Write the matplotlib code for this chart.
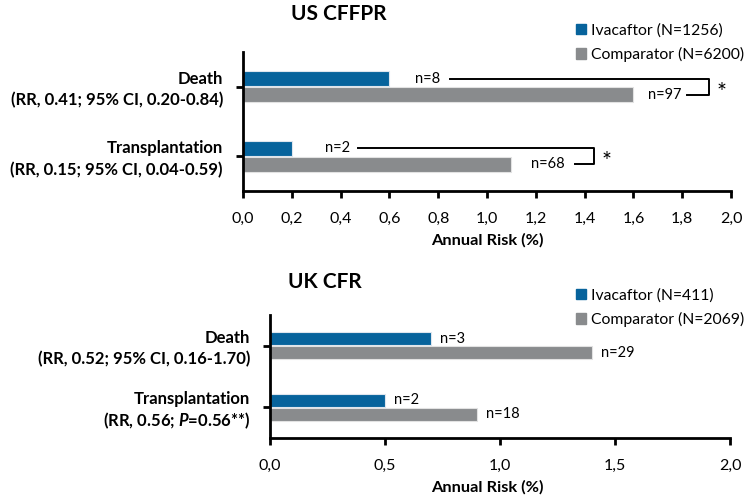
import matplotlib.pyplot as plt
from matplotlib.patches import Patch
import matplotlib.transforms as mtransforms

plt.rcParams['font.family'] = ['Lato', 'DejaVu Sans']
plt.rcParams['mathtext.fontset'] = 'custom'
plt.rcParams['mathtext.it'] = 'Lato:bold:italic'
plt.rcParams['mathtext.rm'] = 'Lato:bold'

BLUE = '#07639c'
GRAY = '#898b8d'

outcomes = ['Death', 'Transplantation']

# US CFFPR registry
us_stats = ['(RR, 0.41; 95% CI, 0.20-0.84)',
            '(RR, 0.15; 95% CI, 0.04-0.59)']
us_iva = [0.6, 0.2]
us_comp = [1.6, 1.1]
us_iva_n = ['n=8', 'n=2']
us_comp_n = ['n=97', 'n=68']
us_legend = ['Ivacaftor (N=1256)', 'Comparator (N=6200)']

# UK CF registry
uk_stats = ['(RR, 0.52; 95% CI, 0.16-1.70)',
            '(RR, 0.56; $P$=0.56**)']
uk_iva = [0.7, 0.5]
uk_comp = [1.4, 0.9]
uk_iva_n = ['n=3', 'n=2']
uk_comp_n = ['n=29', 'n=18']
uk_legend = ['Ivacaftor (N=411)', 'Comparator (N=2069)']

PX = 72 / 100  # points per pixel at dpi 100


def draw_panel(ax, stats, iva, comp, step):
    pos = range(len(outcomes))
    h, off = 0.21, 0.115
    ax.barh([p - off for p in pos], iva, height=h, color=BLUE,
            edgecolor='#dfe6ee', linewidth=0.8)
    ax.barh([p + off for p in pos], comp, height=h, color=GRAY,
            edgecolor='#e2e2e2', linewidth=0.8)
    ax.set_ylim(1.5, -0.5)
    ax.set_xlim(0, 2.0)
    ax.set_yticks(list(pos))
    ax.set_yticklabels([])
    # two-line category labels, right aligned next to the axis
    trans = mtransforms.blended_transform_factory(ax.transAxes, ax.transData)
    for p, name, st in zip(pos, outcomes, stats):
        ax.annotate(name, (0, p), xycoords=trans,
                    xytext=(-20 * PX, 3 * PX), textcoords='offset points',
                    ha='right', va='baseline', fontsize=12, fontweight='bold')
        ax.annotate(st, (0, p), xycoords=trans,
                    xytext=(-20 * PX, -19 * PX), textcoords='offset points',
                    ha='right', va='baseline', fontsize=12, fontweight='bold')
    ticks = [i * step for i in range(int(round(2.0 / step)) + 1)]
    ax.set_xticks(ticks)
    ax.set_xticklabels([f'{t:.1f}'.replace('.', ',') for t in ticks],
                       fontsize=11.5)
    for s in ['top', 'right']:
        ax.spines[s].set_visible(False)
    for s in ['left', 'bottom']:
        ax.spines[s].set_linewidth(2)
    ax.tick_params(width=2, length=5)
    ax.tick_params(axis='x', pad=10)
    return off


def add_legend(labels, top_px):
    fig.legend(handles=[Patch(color=BLUE), Patch(color=GRAY)], labels=labels,
               loc='upper left', bbox_to_anchor=(562 / 744, 1 - top_px / 495),
               frameon=False, fontsize=11.3, handlelength=0.65,
               handleheight=0.65, handletextpad=0.3, labelspacing=0.6)


fig = plt.figure(figsize=(7.44, 4.95), dpi=100)

# top panel
ax1 = fig.add_axes([243 / 744, 1 - 191 / 495, 488 / 744, 139 / 495])
off = draw_panel(ax1, us_stats, us_iva, us_comp, 0.2)
ax1.set_title('US CFFPR', fontsize=15, fontweight='bold', x=0.196, y=1.17)

# n labels with significance brackets
ax1.text(0.705, -off, us_iva_n[0], fontsize=10.5, va='center')
ax1.text(1.66, off, us_comp_n[0], fontsize=10.5, va='center')
ax1.plot([0.85, 1.91, 1.91, 1.82], [-off, -off, off, off],
         color='black', lw=1.4, clip_on=False)
ax1.text(1.94, 0.08, '*', fontsize=17, va='center')

ax1.text(0.336, 1 - off, us_iva_n[1], fontsize=10.5, va='center')
ax1.text(1.18, 1 + off, us_comp_n[1], fontsize=10.5, va='center')
ax1.plot([0.47, 1.44, 1.44, 1.36], [1 - off, 1 - off, 1 + off, 1 + off],
         color='black', lw=1.4, clip_on=False)
ax1.text(1.47, 1.08, '*', fontsize=17, va='center')

ax1.set_xlabel('Annual Risk (%)', fontsize=11.8, fontweight='bold',
               labelpad=5)
add_legend(us_legend, 9)

# bottom panel
ax2 = fig.add_axes([270 / 744, 1 - 438 / 495, 460 / 744, 123 / 495])
off = draw_panel(ax2, uk_stats, uk_iva, uk_comp, 0.5)
ax2.set_title('UK CFR', fontsize=15, fontweight='bold', x=0.12, y=1.15)

for i in range(len(outcomes)):
    ax2.text(uk_iva[i] + 0.04, i - off, uk_iva_n[i], fontsize=10.5,
             va='center')
    ax2.text(uk_comp[i] + 0.04, i + off, uk_comp_n[i], fontsize=10.5,
             va='center')

ax2.set_xlabel('Annual Risk (%)', fontsize=11.8, fontweight='bold')
ax2.xaxis.set_label_coords(0.472, -0.34)
add_legend(uk_legend, 274)

fig.savefig('out.png', dpi=100)
